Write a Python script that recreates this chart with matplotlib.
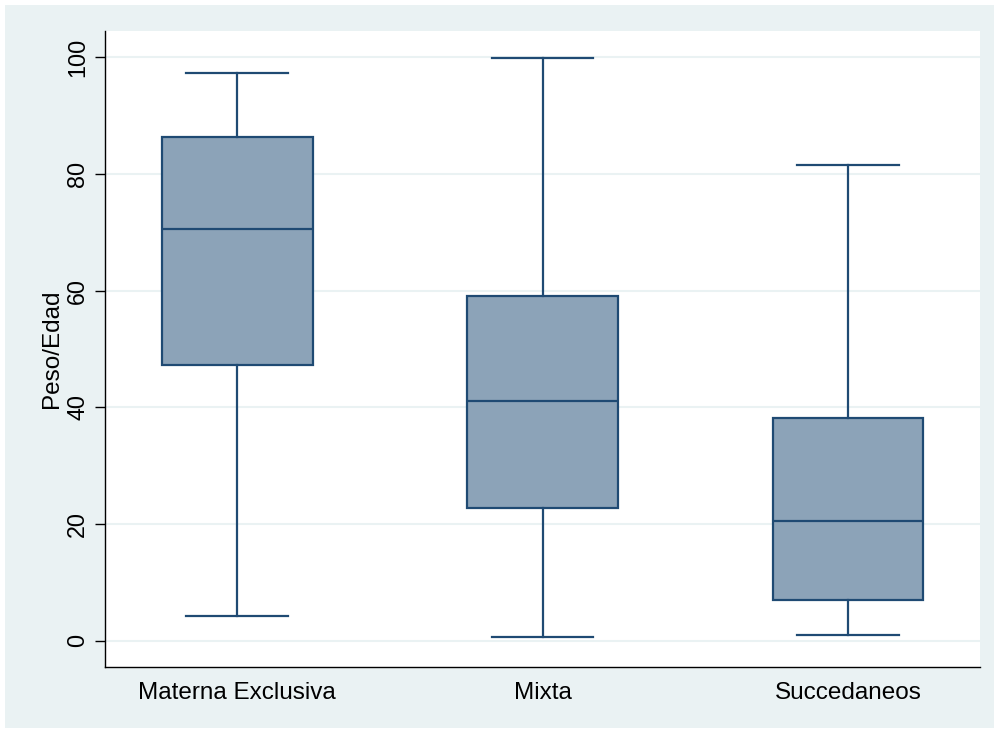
import matplotlib.pyplot as plt
from matplotlib.patches import Rectangle

plt.rcParams['font.family'] = ['Liberation Sans', 'DejaVu Sans']

# datos
grupos = ['Materna Exclusiva', 'Mixta', 'Succedaneos']
minimo = [4.3, 0.7, 1.0]
q1 = [47.3, 22.8, 7.0]
mediana = [70.5, 41.1, 20.5]
q3 = [86.3, 59.1, 38.2]
maximo = [97.3, 99.8, 81.5]

caja = '#8CA3B8'
borde = '#1F4A73'
fondo = '#EAF2F3'

fig = plt.figure(figsize=(9.94, 7.29), dpi=100, facecolor='white')
# marco exterior azul claro (estilo Stata)
fig.add_artist(Rectangle((5 / 994, 1 / 729), 989 / 994, 723 / 729,
                         transform=fig.transFigure, facecolor=fondo,
                         edgecolor='none', zorder=-10))
ax = fig.add_axes([104.5 / 994, 62 / 729, 875.5 / 994, 636 / 729])
ax.set_zorder(1)

stats = []
for i, g in enumerate(grupos):
    stats.append(dict(label=g, whislo=minimo[i], q1=q1[i], med=mediana[i],
                      q3=q3[i], whishi=maximo[i], fliers=[]))

ax.bxp(stats, positions=[1, 2, 3], widths=0.494, patch_artist=True,
       showfliers=False,
       boxprops=dict(facecolor=caja, edgecolor=borde, linewidth=1.6),
       medianprops=dict(color=borde, linewidth=1.6),
       whiskerprops=dict(color=borde, linewidth=1.6),
       capprops=dict(color=borde, linewidth=1.6),
       capwidths=0.333)

ax.set_xlim(0.566, 3.432)
ax.set_ylim(-4.5, 104.5)
ax.set_yticks([0, 20, 40, 60, 80, 100])
ax.grid(axis='y', color=fondo, linewidth=1.5)
ax.set_axisbelow(True)
for s in ['top', 'right']:
    ax.spines[s].set_visible(False)
for s in ['left', 'bottom']:
    ax.spines[s].set_linewidth(1.0)
ax.tick_params(axis='x', length=0, labelsize=17.5, pad=11)
ax.tick_params(axis='y', length=7, width=1.0, labelsize=16.8, pad=4)
for lbl in ax.get_yticklabels():
    lbl.set_rotation(90)
    lbl.set_va('center')
ax.set_ylabel('Peso/Edad', fontsize=17.5)
ax.yaxis.set_label_coords(-0.047, 0.5)

fig.savefig('out.png', dpi=100, facecolor=fig.get_facecolor())
